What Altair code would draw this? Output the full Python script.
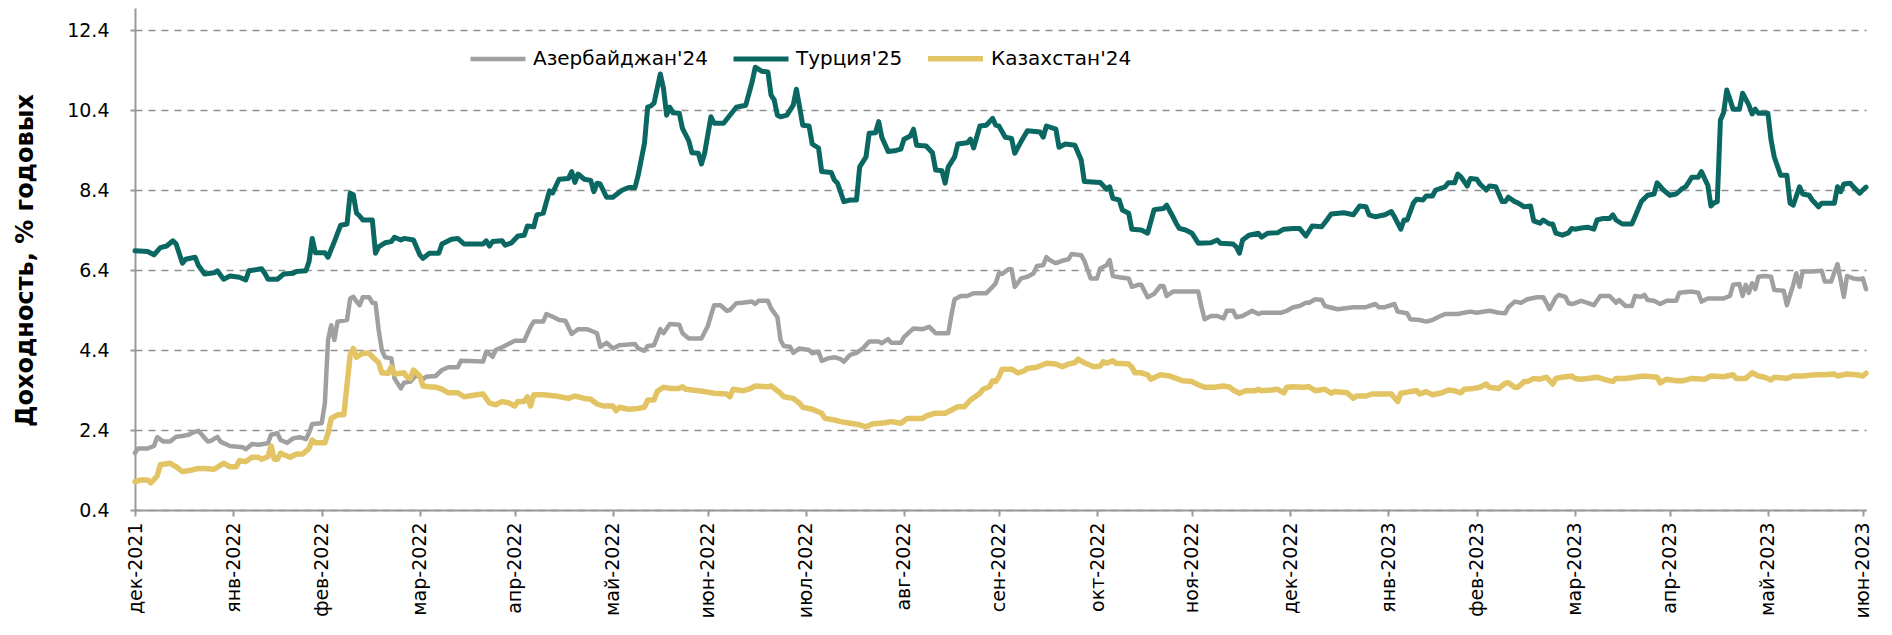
import altair as alt
import pandas as pd

SERIES = ["Азербайджан'24", "Турция'25", "Казахстан'24"]
COLORS = ["#a0a0a0", "#0a6762", "#e3c464"]
WIDTHS = [4.5, 5.5, 4.5]

# x = days since 2021-12-31, y = yield, % p.a.
aze_day = [0, 1, 4, 6, 7, 9, 11, 13, 15, 17,
           18, 20, 23, 24, 26, 27, 30, 34, 35, 37,
           39, 42, 43, 45, 46, 48, 50, 52, 54, 55,
           56, 59, 60, 61, 62, 63, 64, 67, 68, 69,
           70, 71, 72, 74, 75, 76, 77, 78, 79, 81,
           82, 84, 85, 87, 89, 91, 92, 95, 97, 99,
           102, 103, 110, 111, 113, 114, 116, 118, 120, 123,
           125, 126, 129, 130, 132, 134, 136, 138, 140, 143,
           146, 147, 149, 151, 153, 158, 159, 161, 162, 164,
           166, 167, 169, 172, 173, 175, 179, 181, 183, 185,
           187, 188, 190, 192, 195, 196, 197, 200, 201, 203,
           204, 205, 207, 208, 210, 213, 214, 216, 217, 219,
           221, 223, 224, 226, 228, 230, 232, 235, 236, 238,
           239, 242, 243, 246, 249, 251, 253, 257, 258, 259,
           261, 263, 265, 269, 271, 272, 273, 274, 276, 277,
           278, 280, 282, 284, 285, 287, 288, 289, 291, 293,
           295, 296, 299, 300, 302, 304, 305, 307, 308, 309,
           311, 314, 315, 317, 318, 320, 322, 324, 325, 326,
           328, 336, 337, 338, 340, 342, 344, 345, 347, 348,
           350, 353, 355, 356, 362, 364, 366, 368, 370, 371,
           373, 375, 376, 380, 385, 389, 390, 392, 393, 395,
           398, 399, 402, 403, 406, 408, 410, 412, 414, 418,
           420, 422, 424, 428, 431, 433, 434, 436, 438, 440,
           443, 445, 446, 447, 449, 450, 452, 453, 454, 455,
           457, 459, 461, 463, 466, 468, 469, 471, 473, 474,
           476, 477, 478, 480, 482, 484, 487, 488, 492, 494,
           495, 497, 502, 504, 505, 507, 508, 509, 510, 511,
           512, 513, 515, 517, 518, 521, 522, 524, 525, 526,
           527, 530, 533, 534, 536, 537, 538, 540, 541, 543,
           545, 546, 547]
aze_val = [1.83, 1.94, 1.94, 2.0, 2.22, 2.11, 2.11, 2.23, 2.25, 2.28,
           2.33, 2.38, 2.11, 2.13, 2.23, 2.11, 2.0, 1.97, 1.92, 2.05,
           2.03, 2.07, 2.28, 2.32, 2.15, 2.08, 2.19, 2.22, 2.17, 2.33,
           2.55, 2.57, 3.07, 4.65, 5.02, 4.65, 5.11, 5.15, 5.69, 5.73,
           5.61, 5.52, 5.72, 5.72, 5.58, 5.57, 4.9, 4.4, 4.22, 4.19,
           3.69, 3.44, 3.58, 3.61, 3.78, 3.67, 3.73, 3.75, 3.9, 3.97,
           3.97, 4.13, 4.11, 4.36, 4.23, 4.4, 4.47, 4.55, 4.63, 4.63,
           4.98, 5.11, 5.11, 5.3, 5.23, 5.15, 5.13, 4.8, 4.92, 4.92,
           4.82, 4.48, 4.58, 4.44, 4.52, 4.55, 4.44, 4.38, 4.5, 4.52,
           4.92, 4.82, 5.05, 5.03, 4.82, 4.69, 4.69, 5.0, 5.52, 5.52,
           5.38, 5.4, 5.57, 5.58, 5.61, 5.55, 5.63, 5.63, 5.44, 5.22,
           4.65, 4.5, 4.48, 4.33, 4.44, 4.4, 4.32, 4.36, 4.13, 4.19,
           4.22, 4.17, 4.11, 4.28, 4.33, 4.44, 4.61, 4.61, 4.57, 4.67,
           4.58, 4.58, 4.72, 4.94, 4.92, 4.98, 4.82, 4.82, 5.28, 5.67,
           5.75, 5.75, 5.82, 5.82, 5.98, 6.07, 6.32, 6.3, 6.42, 6.42,
           5.98, 6.19, 6.23, 6.32, 6.5, 6.52, 6.72, 6.65, 6.57, 6.63,
           6.67, 6.8, 6.77, 6.63, 6.19, 6.19, 6.44, 6.52, 6.65, 6.25,
           6.22, 6.19, 5.98, 6.03, 6.03, 5.72, 5.8, 6.0, 6.0, 5.75,
           5.86, 5.86, 5.48, 5.17, 5.25, 5.25, 5.19, 5.38, 5.38, 5.22,
           5.25, 5.38, 5.3, 5.33, 5.33, 5.38, 5.47, 5.5, 5.58, 5.58,
           5.67, 5.65, 5.5, 5.42, 5.47, 5.47, 5.5, 5.55, 5.47, 5.47,
           5.55, 5.36, 5.32, 5.17, 5.15, 5.11, 5.15, 5.23, 5.3, 5.3,
           5.33, 5.36, 5.33, 5.38, 5.33, 5.32, 5.47, 5.61, 5.58, 5.67,
           5.72, 5.72, 5.58, 5.42, 5.72, 5.78, 5.73, 5.57, 5.55, 5.57,
           5.63, 5.58, 5.52, 5.75, 5.75, 5.58, 5.65, 5.5, 5.5, 5.75,
           5.73, 5.78, 5.65, 5.63, 5.55, 5.63, 5.63, 5.83, 5.86, 5.83,
           5.61, 5.69, 5.69, 5.75, 6.03, 6.05, 5.75, 6.03, 5.83, 6.07,
           5.92, 6.23, 6.25, 6.23, 5.9, 5.88, 5.52, 6.03, 6.32, 5.98,
           6.36, 6.36, 6.38, 6.11, 6.11, 6.34, 6.55, 5.73, 6.25, 6.19,
           6.17, 6.19, 5.92]

tur_day = [0, 4, 6, 8, 10, 12, 13, 15, 16, 19,
           20, 22, 25, 26, 28, 30, 33, 35, 36, 40,
           41, 42, 45, 47, 50, 51, 54, 55, 56, 57,
           60, 61, 63, 65, 67, 68, 69, 70, 71, 72,
           75, 76, 77, 79, 81, 82, 84, 85, 88, 90,
           91, 93, 96, 97, 100, 102, 104, 110, 111, 112,
           113, 116, 117, 119, 121, 123, 124, 126, 127, 129,
           131, 132, 134, 137, 138, 139, 140, 142, 144, 145,
           146, 147, 149, 151, 154, 156, 158, 159, 161, 162,
           163, 164, 166, 167, 168, 169, 170, 172, 173, 175,
           176, 178, 179, 180, 182, 183, 186, 190, 193, 195,
           196, 198, 200, 201, 202, 203, 204, 206, 208, 209,
           210, 211, 213, 214, 216, 217, 220, 221, 222, 224,
           226, 228, 229, 231, 232, 234, 235, 236, 238, 240,
           242, 243, 245, 246, 247, 250, 252, 253, 255, 256,
           257, 259, 260, 263, 264, 265, 267, 269, 271, 272,
           273, 275, 277, 278, 280, 282, 286, 287, 288, 291,
           292, 294, 297, 299, 300, 305, 307, 308, 309, 311,
           312, 314, 315, 318, 320, 322, 323, 325, 326, 328,
           329, 330, 332, 334, 336, 340, 342, 343, 347, 348,
           349, 350, 352, 355, 356, 358, 361, 363, 366, 368,
           370, 372, 375, 377, 378, 382, 385, 387, 389, 390,
           392, 395, 397, 398, 400, 401, 402, 404, 405, 407,
           408, 410, 411, 414, 415, 417, 418, 419, 421, 422,
           424, 425, 427, 428, 430, 432, 433, 434, 436, 437,
           439, 441, 442, 444, 445, 447, 448, 449, 451, 453,
           454, 455, 457, 459, 461, 462, 464, 466, 467, 468,
           470, 473, 474, 476, 478, 480, 481, 483, 485, 487,
           489, 490, 492, 494, 495, 497, 498, 499, 500, 501,
           502, 503, 504, 505, 507, 508, 510, 511, 512, 513,
           516, 517, 518, 520, 522, 523, 524, 526, 527, 529,
           530, 532, 533, 537, 538, 539, 540, 542, 543, 545,
           546, 547]
tur_val = [6.88, 6.86, 6.78, 6.96, 7.0, 7.13, 7.05, 6.57, 6.67, 6.72,
           6.52, 6.3, 6.33, 6.38, 6.17, 6.25, 6.22, 6.15, 6.38, 6.43,
           6.32, 6.17, 6.17, 6.3, 6.32, 6.36, 6.38, 6.61, 7.19, 6.83,
           6.83, 6.72, 7.11, 7.52, 7.55, 8.32, 8.28, 7.82, 7.75, 7.65,
           7.65, 6.82, 6.98, 7.08, 7.11, 7.22, 7.15, 7.19, 7.15, 6.78,
           6.69, 6.82, 6.82, 7.05, 7.17, 7.19, 7.05, 7.05, 7.13, 7.0,
           7.11, 7.13, 7.02, 7.08, 7.25, 7.27, 7.5, 7.48, 7.78, 7.82,
           8.38, 8.33, 8.67, 8.69, 8.86, 8.59, 8.8, 8.67, 8.64, 8.36,
           8.57, 8.55, 8.22, 8.22, 8.4, 8.46, 8.46, 8.77, 9.57, 10.47,
           10.5, 10.57, 11.3, 10.94, 10.27, 10.47, 10.33, 10.32, 9.94, 9.63,
           9.33, 9.32, 9.05, 9.32, 10.23, 10.07, 10.07, 10.47, 10.52, 11.1,
           11.47, 11.37, 11.35, 10.77, 10.65, 10.27, 10.23, 10.27, 10.52, 10.92,
           10.48, 10.02, 10.0, 9.55, 9.45, 8.86, 8.84, 8.65, 8.57, 8.11,
           8.15, 8.15, 8.98, 9.23, 9.82, 9.83, 10.11, 9.72, 9.36, 9.38,
           9.42, 9.67, 9.75, 9.92, 9.52, 9.5, 9.33, 8.9, 8.88, 8.57,
           8.98, 9.23, 9.55, 9.58, 9.67, 9.45, 10.0, 10.02, 10.19, 10.02,
           10.0, 9.72, 9.69, 9.32, 9.61, 9.88, 9.85, 9.72, 10.0, 9.92,
           9.47, 9.55, 9.52, 9.15, 8.61, 8.59, 8.42, 8.48, 8.19, 8.15,
           7.9, 7.82, 7.42, 7.4, 7.32, 7.9, 7.92, 7.94, 8.02, 7.73,
           7.57, 7.44, 7.4, 7.32, 7.07, 7.08, 7.15, 7.07, 7.05, 6.98,
           6.82, 7.15, 7.27, 7.32, 7.22, 7.32, 7.33, 7.42, 7.44, 7.44,
           7.25, 7.5, 7.48, 7.69, 7.8, 7.83, 7.78, 8.0, 7.98, 7.78,
           7.73, 7.78, 7.86, 7.73, 7.42, 7.65, 7.65, 8.08, 8.17, 8.15,
           8.25, 8.25, 8.4, 8.48, 8.58, 8.58, 8.8, 8.73, 8.5, 8.69,
           8.67, 8.55, 8.4, 8.5, 8.48, 8.11, 8.11, 8.22, 8.11, 8.08,
           7.98, 8.0, 7.63, 7.57, 7.65, 7.55, 7.55, 7.32, 7.27, 7.33,
           7.44, 7.42, 7.45, 7.47, 7.42, 7.65, 7.69, 7.69, 7.78, 7.65,
           7.55, 7.55, 7.73, 8.11, 8.27, 8.3, 8.58, 8.4, 8.27, 8.3,
           8.44, 8.48, 8.72, 8.72, 8.86, 8.52, 8.0, 8.08, 8.11, 10.15,
           10.33, 10.9, 10.67, 10.42, 10.42, 10.82, 10.52, 10.3, 10.42, 10.32,
           10.32, 9.65, 9.23, 8.77, 8.77, 8.07, 8.02, 8.48, 8.3, 8.27,
           8.15, 7.98, 8.07, 8.07, 8.48, 8.36, 8.55, 8.57, 8.48, 8.32,
           8.4, 8.47]

kaz_day = [0, 2, 4, 5, 7, 8, 11, 13, 15, 18,
           20, 22, 25, 28, 30, 32, 33, 35, 37, 39,
           40, 42, 43, 44, 45, 46, 49, 51, 53, 55,
           56, 57, 60, 61, 62, 64, 66, 68, 69, 70,
           72, 74, 75, 77, 78, 80, 81, 82, 84, 85,
           86, 87, 88, 90, 91, 93, 95, 97, 99, 102,
           104, 108, 110, 112, 114, 116, 118, 120, 121, 123,
           124, 125, 126, 129, 133, 137, 139, 142, 144, 146,
           148, 151, 152, 153, 156, 159, 161, 162, 164, 165,
           167, 169, 172, 173, 174, 178, 180, 183, 187, 188,
           189, 192, 194, 196, 200, 201, 202, 204, 205, 208,
           210, 211, 214, 217, 218, 221, 223, 226, 229, 231,
           233, 237, 239, 242, 244, 249, 250, 253, 256, 258,
           260, 262, 264, 267, 268, 270, 271, 272, 273, 274,
           277, 279, 281, 282, 285, 288, 291, 293, 295, 297,
           298, 300, 303, 305, 306, 307, 309, 310, 314, 315,
           316, 318, 320, 321, 324, 327, 329, 331, 334, 336,
           338, 341, 344, 346, 347, 349, 351, 354, 355, 356,
           359, 361, 363, 364, 366, 369, 371, 373, 376, 378,
           379, 383, 385, 386, 389, 391, 397, 399, 400, 403,
           405, 406, 408, 410, 413, 415, 417, 419, 420, 423,
           425, 427, 428, 431, 433, 434, 436, 437, 439, 440,
           442, 444, 446, 448, 449, 451, 454, 455, 457, 459,
           462, 464, 467, 468, 471, 475, 477, 481, 482, 484,
           487, 489, 492, 496, 498, 502, 505, 506, 509, 511,
           513, 515, 517, 518, 522, 524, 527, 531, 534, 537,
           538, 541, 544, 546, 547]
kaz_val = [1.11, 1.15, 1.15, 1.08, 1.25, 1.53, 1.57, 1.48, 1.36, 1.4,
           1.44, 1.44, 1.42, 1.57, 1.48, 1.48, 1.63, 1.61, 1.72, 1.72,
           1.67, 1.73, 2.0, 1.67, 1.67, 1.82, 1.72, 1.8, 1.8, 1.94,
           2.15, 2.08, 2.08, 2.32, 2.69, 2.78, 2.78, 4.28, 4.44, 4.22,
           4.32, 4.32, 4.23, 4.08, 3.83, 3.82, 3.98, 3.8, 3.82, 3.83,
           3.72, 3.69, 3.9, 3.75, 3.5, 3.48, 3.47, 3.42, 3.33, 3.33,
           3.23, 3.28, 3.3, 3.08, 3.03, 3.11, 3.08, 3.0, 3.11, 3.11,
           3.23, 3.0, 3.28, 3.28, 3.25, 3.19, 3.25, 3.19, 3.17, 3.05,
           3.0, 3.0, 2.88, 2.97, 2.92, 2.94, 2.97, 3.15, 3.15, 3.36,
           3.47, 3.44, 3.44, 3.48, 3.42, 3.38, 3.36, 3.32, 3.3, 3.23,
           3.42, 3.38, 3.42, 3.5, 3.48, 3.5, 3.44, 3.32, 3.23, 3.19,
           3.07, 2.97, 2.92, 2.82, 2.69, 2.65, 2.61, 2.57, 2.53, 2.48,
           2.55, 2.58, 2.61, 2.57, 2.69, 2.69, 2.75, 2.82, 2.82, 2.9,
           2.98, 2.98, 3.15, 3.32, 3.42, 3.48, 3.63, 3.61, 3.73, 3.92,
           3.92, 3.83, 3.88, 3.94, 3.97, 4.07, 4.05, 3.98, 4.05, 4.08,
           4.17, 4.08, 3.98, 4.0, 4.11, 4.07, 4.13, 4.07, 4.05, 3.97,
           3.83, 3.83, 3.78, 3.67, 3.78, 3.75, 3.69, 3.63, 3.61, 3.53,
           3.47, 3.47, 3.5, 3.47, 3.4, 3.32, 3.38, 3.38, 3.42, 3.38,
           3.4, 3.42, 3.33, 3.47, 3.48, 3.47, 3.48, 3.38, 3.42, 3.32,
           3.36, 3.33, 3.19, 3.25, 3.25, 3.3, 3.3, 3.11, 3.32, 3.36,
           3.38, 3.3, 3.36, 3.28, 3.33, 3.4, 3.38, 3.33, 3.42, 3.44,
           3.47, 3.55, 3.47, 3.44, 3.57, 3.58, 3.47, 3.47, 3.61, 3.61,
           3.69, 3.67, 3.72, 3.55, 3.69, 3.72, 3.75, 3.69, 3.67, 3.69,
           3.72, 3.67, 3.61, 3.69, 3.69, 3.73, 3.75, 3.72, 3.58, 3.67,
           3.63, 3.63, 3.69, 3.67, 3.75, 3.73, 3.78, 3.69, 3.69, 3.83,
           3.75, 3.72, 3.65, 3.72, 3.69, 3.75, 3.75, 3.78, 3.78, 3.8,
           3.75, 3.8, 3.78, 3.75, 3.82]

Y_TICKS = [0.4, 2.4, 4.4, 6.4, 8.4, 10.4, 12.4]
X_TICKS = ["2021-12-31", "2022-01-31", "2022-02-28", "2022-03-31", "2022-04-30",
           "2022-05-31", "2022-06-30", "2022-07-31", "2022-08-31", "2022-09-30",
           "2022-10-31", "2022-11-30", "2022-12-31", "2023-01-31", "2023-02-28",
           "2023-03-31", "2023-04-30", "2023-05-31", "2023-06-30"]
MONTHS = ["янв", "фев", "мар", "апр", "май", "июн",
          "июл", "авг", "сен", "окт", "ноя", "дек"]
BASE = pd.Timestamp("2021-12-31")


def frame(name, days, vals):
    assert len(days) == len(vals), (name, len(days), len(vals))
    d = pd.DataFrame({"day": days, "value": vals})
    d["date"] = (BASE + pd.to_timedelta(d["day"], unit="D")).dt.strftime("%Y-%m-%d")
    d["series"] = name
    d["idx"] = range(len(d))
    return d


df = pd.concat([
    frame(SERIES[0], aze_day, aze_val),
    frame(SERIES[1], tur_day, tur_val),
    frame(SERIES[2], kaz_day, kaz_val),
], ignore_index=True)


def dt(s):
    t = pd.Timestamp(s)
    return alt.DateTime(year=t.year, month=t.month, date=t.day, utc=True)


month_arr = "[" + ",".join("'%s'" % m for m in MONTHS) + "]"
label_expr = month_arr + "[utcmonth(datum.value)] + '-' + utcyear(datum.value)"

chart = alt.Chart(df).mark_line(strokeJoin="round", strokeCap="round").encode(
    x=alt.X(
        "date:T",
        scale=alt.Scale(type="utc", domain=[dt("2021-12-31"), dt("2023-07-01")], nice=False),
        axis=alt.Axis(
            values=[dt(s) for s in X_TICKS],
            labelExpr=label_expr,
            title=None,
            grid=False,
            labelAngle=-90,
            labelFont="DejaVu Sans",
            labelFontSize=19,
            labelColor="#000000",
            labelPadding=6,
            labelFlush=False,
            labelOverlap=False,
            labelBound=False,
            domainColor="#999999",
            domainWidth=2,
            tickColor="#999999",
            tickWidth=2,
            tickSize=6,
        ),
    ),
    y=alt.Y(
        "value:Q",
        scale=alt.Scale(domain=[0.4, 12.95], nice=False, zero=False),
        axis=alt.Axis(
            values=Y_TICKS,
            format=".1f",
            grid=True,
            gridDash=[7, 6],
            gridColor="#8f8f8f",
            gridWidth=1.6,
            domainColor="#999999",
            domainWidth=2,
            tickColor="#999999",
            tickWidth=2,
            tickSize=5,
            labelFont="DejaVu Sans",
            labelFontSize=19,
            labelColor="#000000",
            labelPadding=21,
            title="Доходность, % годовых",
            titleFont="DejaVu Sans",
            titleFontSize=24,
            titleFontWeight="bold",
            titleColor="#000000",
            titleAngle=-90,
            titleX=-110,
            titleY=252,
            titleAlign="center",
            titleBaseline="middle",
        ),
    ),
    color=alt.Color(
        "series:N",
        scale=alt.Scale(domain=SERIES, range=COLORS),
        legend=alt.Legend(
            orient="none",
            legendX=333,
            legendY=20,
            direction="horizontal",
            title=None,
            symbolType="stroke",
            symbolSize=3025,
            symbolStrokeWidth=6,
            labelFont="DejaVu Sans",
            labelFontSize=20,
            labelColor="#000000",
            labelOffset=5,
            columnPadding=14,
            labelLimit=0,
            padding=0,
        ),
    ),
    strokeWidth=alt.StrokeWidth(
        "series:N", scale=alt.Scale(domain=SERIES, range=WIDTHS), legend=None
    ),
    order=alt.Order("idx:Q"),
).properties(
    width=1731,
    height=502,
    autosize=alt.AutoSizeParams(type="none"),
    padding={"left": 127, "top": 0, "right": 10, "bottom": 110},
).configure_view(stroke=None)

chart.save("out.html", embed_options={"renderer": "svg", "actions": False})
